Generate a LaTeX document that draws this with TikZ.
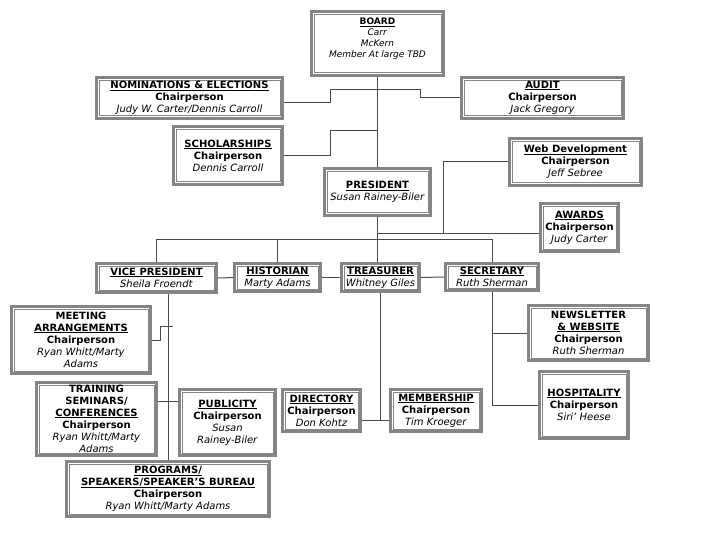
\documentclass[tikz,border=0pt]{standalone}
\usepackage{fontspec}
\setmainfont{DejaVu Sans}
\usetikzlibrary{calc}
\definecolor{boxgray}{HTML}{858585}
\definecolor{linegray}{HTML}{4A4A4A}
\newcommand{\ulin}[1]{\setbox0\hbox{#1}\rlap{\rule[-1.6pt]{\wd0}{0.75pt}}\box0}
\newcommand{\ttl}[1]{\textbf{\ulin{#1}}}
\newcommand{\chair}{\textbf{Chairperson}}
\tikzset{
  orgbox/.style={draw=boxgray, line width=2.4pt, fill=white, inner sep=0pt,
    align=center, font=\fontsize{10}{12}\selectfont,
    path picture={\draw[boxgray, line width=0.8pt]
      ($(path picture bounding box.south west)+(2.6pt,2.6pt)$) rectangle
      ($(path picture bounding box.north east)+(-2.6pt,-2.6pt)$);}},
  conn/.style={draw=linegray, line width=1pt}
}
\begin{document}
\begin{tikzpicture}[x=1pt,y=-1pt]
\useasboundingbox (0,0) rectangle (720,540);
\fill[white] (0,0) rectangle (720,540);

% boxes
\node[orgbox, minimum width=132pt, minimum height=64pt, font=\fontsize{9}{11}\selectfont] (board) at (377.5,43.5)
  {\textbf{\ulin{BOARD}}\\ \textit{Carr}\\ \textit{McKern}\\ \textit{Member At large TBD}\\[0pt]};
\node[orgbox, minimum width=186pt, minimum height=41pt] (nom) at (189.5,98)
  {\ttl{NOMINATIONS \& ELECTIONS}\\ \chair\\ \textit{Judy W. Carter/Dennis Carroll}};
\node[orgbox, minimum width=162pt, minimum height=41pt] (audit) at (542.5,98)
  {\ttl{AUDIT}\\ \chair\\ \textit{Jack Gregory}};
\node[orgbox, minimum width=109pt, minimum height=58pt] (schol) at (228,155.5)
  {\ttl{SCHOLARSHIPS}\\ \chair\\ \textit{Dennis Carroll}};
\node[orgbox, minimum width=132pt, minimum height=47pt] (web) at (575.5,162)
  {\ttl{Web Development}\\ \chair\\ \textit{Jeff Sebree}};
\node[orgbox, minimum width=106pt, minimum height=47pt] (pres) at (377.5,192)
  {\ttl{PRESIDENT}\\ \textit{Susan Rainey-Biler}};
\node[orgbox, minimum width=78pt, minimum height=48pt] (awards) at (579.5,227.5)
  {\ttl{AWARDS}\\ \chair\\ \textit{Judy Carter}};
\node[orgbox, minimum width=120pt, minimum height=29pt] (vp) at (156.5,278)
  {\ttl{VICE PRESIDENT}\\ \textit{Sheila Froendt}};
\node[orgbox, minimum width=86pt, minimum height=28pt] (hist) at (277.5,277.5)
  {\ttl{HISTORIAN}\\ \textit{Marty Adams}};
\node[orgbox, minimum width=78pt, minimum height=28pt] (treas) at (380.5,277.5)
  {\ttl{TREASURER}\\ \textit{Whitney Giles}};
\node[orgbox, minimum width=93pt, minimum height=27pt] (sec) at (492,277)
  {\ttl{SECRETARY}\\ \textit{Ruth Sherman}};
\node[orgbox, minimum width=139pt, minimum height=67pt] (meet) at (81,340)
  {\textbf{MEETING}\\ \ttl{ARRANGEMENTS}\\ \chair\\ \textit{Ryan Whitt/Marty}\\ \textit{Adams}};
\node[orgbox, minimum width=120pt, minimum height=55pt] (news) at (588.5,333)
  {\textbf{NEWSLETTER}\\ \ttl{\& WEBSITE}\\ \chair\\ \textit{Ruth Sherman}};
\node[orgbox, minimum width=120pt, minimum height=73pt] (train) at (96.5,419)
  {\textbf{TRAINING}\\ \textbf{SEMINARS/}\\ \ttl{CONFERENCES}\\ \chair\\ \textit{Ryan Whitt/Marty}\\ \textit{Adams}};
\node[orgbox, minimum width=96pt, minimum height=66pt] (pub) at (227.5,422.5)
  {\ttl{PUBLICITY}\\ \chair\\ \textit{Susan}\\ \textit{Rainey-Biler}};
\node[orgbox, minimum width=78pt, minimum height=42pt] (dir) at (321.5,410.5)
  {\ttl{DIRECTORY}\\ \chair\\ \textit{Don Kohtz}};
\node[orgbox, minimum width=91pt, minimum height=42pt] (memb) at (436,410.5)
  {\ttl{MEMBERSHIP}\\ \chair\\ \textit{Tim Kroeger}};
\node[orgbox, minimum width=89pt, minimum height=67pt] (hosp) at (584,405)
  {\ttl{HOSPITALITY}\\ \chair\\ \textit{Siri’ Heese}};
\node[orgbox, minimum width=203pt, minimum height=55pt] (prog) at (168,489)
  {\ttl{PROGRAMS/}\\ \ttl{SPEAKERS/SPEAKER’S BUREAU}\\ \chair\\ \textit{Ryan Whitt/Marty Adams}};

% junctions
\coordinate (jNom) at (330,90);
\coordinate (jAud) at (420,98);
\coordinate (jSch) at (330,131);
\coordinate (tSch) at (377.5,131);
\coordinate (jWeb) at (443,233);
\coordinate (tAw) at (377.5,233);
\coordinate (barL) at (156.5,239);
\coordinate (barR) at (492,239);
\coordinate (jMeet) at (160,326);
\coordinate (eMeet) at (173,326);
\coordinate (jTr) at (380.5,420);
\coordinate (jSec) at (492,405);

% connectors
\draw[conn] (board.south) -- (pres.north);
\draw[conn] ($(nom.east)+(0,5)$) -| (jNom) -| (jAud) -- (audit.west);
\draw[conn] (schol.east) -| (jSch) -- (tSch);
\draw[conn] (web.west) -| (jWeb) -- (tAw);
\draw[conn] (tAw) -- ($(awards.west)+(0,5.5)$);
\draw[conn] (pres.south) -- (pres.south |- treas.north);
\draw[conn] (vp.north) -- (barL) -- (barR) -- (sec.north);
\draw[conn] (hist.north) -- (hist.north |- barL);
\draw[conn] (vp.east) -- (hist.west);
\draw[conn] (hist.east) -- (treas.west);
\draw[conn] (treas.east) -- (sec.west);
\draw[conn] (prog.north) -- (prog.north |- vp.south);
\draw[conn] (meet.east) -| (jMeet) -- (eMeet);
\draw[conn] ($(train.east)+(0,-18)$) -- ($(pub.west)+(0,-21.5)$);
\draw[conn] (treas.south) -- (jTr);
\draw[conn] ($(dir.east)+(0,9.5)$) -- ($(memb.west)+(0,9.5)$);
\draw[conn] (sec.south) -- (jSec) -- (hosp.west);
\draw[conn] (news.west) -- (news.west -| sec.south);
\end{tikzpicture}
\end{document}
